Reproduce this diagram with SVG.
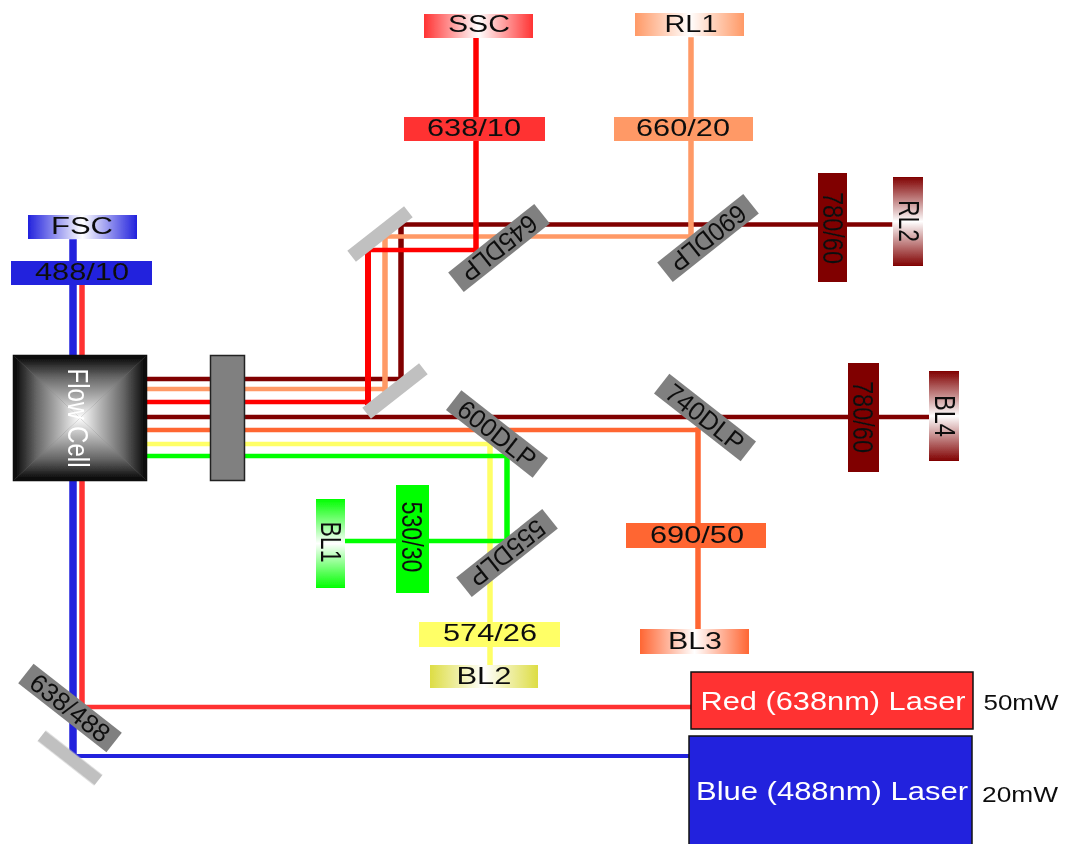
<svg xmlns="http://www.w3.org/2000/svg" width="1067" height="844" viewBox="0 0 1067 844">
<style>
text{font-family:"Liberation Sans",Arial,sans-serif;font-size:24px;fill:#111;text-anchor:middle}
.w{fill:#fff}
.dlp{fill:#808080}
.mir{fill:#c0c0c0}
.t{font-size:26px}
.v{font-size:30px;text-anchor:middle}
.h,.u{fill:none;stroke-linecap:square}
.h{stroke-width:4.500}
.u{stroke-width:5.500}
.dr{stroke:#800000}.or{stroke:#ff9966}.rd{stroke:#ff0000}.mo{stroke:#ff6633}.ye{stroke:#ffff66}.gr{stroke:#00ff00}.bl{stroke:#2222dd}.lr{stroke:#ff3333}
</style>
<defs>
<filter id="soft" x="-2%" y="-2%" width="104%" height="104%"><feGaussianBlur stdDeviation="0.7"/></filter>
<linearGradient id="gB"><stop offset="0" stop-color="#2222dd"/><stop offset=".5" stop-color="#fff"/><stop offset="1" stop-color="#2222dd"/></linearGradient>
<linearGradient id="gR"><stop offset="0" stop-color="#ff3333"/><stop offset=".5" stop-color="#fff"/><stop offset="1" stop-color="#ff3333"/></linearGradient>
<linearGradient id="gO"><stop offset="0" stop-color="#ff9966"/><stop offset=".5" stop-color="#fff"/><stop offset="1" stop-color="#ff9966"/></linearGradient>
<linearGradient id="gM"><stop offset="0" stop-color="#ff6633"/><stop offset=".5" stop-color="#fff"/><stop offset="1" stop-color="#ff6633"/></linearGradient>
<linearGradient id="gY"><stop offset="0" stop-color="#dddd44"/><stop offset=".5" stop-color="#fff"/><stop offset="1" stop-color="#dddd44"/></linearGradient>
<linearGradient id="gD" x2="0" y2="1"><stop offset="0" stop-color="#800000"/><stop offset=".5" stop-color="#fff"/><stop offset="1" stop-color="#800000"/></linearGradient>
<linearGradient id="gG" x2="0" y2="1"><stop offset="0" stop-color="#00ff00"/><stop offset=".5" stop-color="#fff"/><stop offset="1" stop-color="#00ff00"/></linearGradient>
<linearGradient id="fT" x2="0" y2="1"><stop offset="0" stop-color="#000"/><stop offset=".35" stop-color="#666"/><stop offset=".7" stop-color="#b4b4b4"/><stop offset="1" stop-color="#fff"/></linearGradient>
<linearGradient id="fB" x2="0" y2="1"><stop offset="0" stop-color="#fff"/><stop offset=".3" stop-color="#b4b4b4"/><stop offset=".65" stop-color="#666"/><stop offset="1" stop-color="#000"/></linearGradient>
<linearGradient id="fL"><stop offset="0" stop-color="#000"/><stop offset=".35" stop-color="#666"/><stop offset=".7" stop-color="#b4b4b4"/><stop offset="1" stop-color="#fff"/></linearGradient>
<linearGradient id="fR"><stop offset="0" stop-color="#fff"/><stop offset=".3" stop-color="#b4b4b4"/><stop offset=".65" stop-color="#666"/><stop offset="1" stop-color="#000"/></linearGradient>
</defs>
<rect width="1067" height="844" fill="#fff"/>
<g filter="url(#soft)">
<g id="connectors">
<path class="u bl" stroke-width="7" style="stroke-width:7.500" d="M73 243V756"/>
<path class="h bl" style="stroke-width:4" d="M73 756H688"/>
<path class="u lr" d="M82 287V707"/>
<path class="h lr" d="M82 707H690"/>
<path class="h dr" d="M149 379H401M401 224.500H890"/>
<path class="u dr" d="M401 379V224.500"/>
<path class="h or" d="M149 389H385M385 236.500H691"/>
<path class="u or" d="M385 389V236.500M691 236.500V40"/>
<path class="h rd" d="M149 402H368M368 250H476"/>
<path class="u rd" style="stroke-width:6" d="M368 402V250"/>
<path class="u rd" d="M476 250V40"/>
<path class="h dr" d="M149 417H928"/>
<path class="h mo" d="M149 430H698"/>
<path class="u mo" d="M698 430V628"/>
<path class="h ye" d="M149 444H490"/>
<path class="u ye" d="M490 444V663"/>
<path class="h gr" d="M149 456H507M507 541H347"/>
<path class="u gr" d="M507 456V541"/>
</g>
<g id="fsc"><rect x="28" y="215" width="109" height="24" fill="url(#gB)"/><text x="82" y="234" textLength="62" lengthAdjust="spacingAndGlyphs">FSC</text></g>
<g id="f48810"><rect x="11" y="261" width="141" height="24" fill="#2222dd"/><text x="82" y="279.500" textLength="94" lengthAdjust="spacingAndGlyphs">488/10</text></g>
<g id="flowcell">
<rect x="13" y="355" width="134" height="126" fill="#777"/>
<polygon points="13,355 147,355 80,418" fill="url(#fT)"/>
<polygon points="13,481 147,481 80,418" fill="url(#fB)"/>
<polygon points="13,355 13,481 80,418" fill="url(#fL)"/>
<polygon points="147,355 147,481 80,418" fill="url(#fR)"/>
<rect x="13.500" y="355.500" width="133" height="125" fill="none" stroke="#111" stroke-width="1.500"/>
<text class="w v" transform="translate(68 418) rotate(90)" textLength="99" lengthAdjust="spacingAndGlyphs">Flow Cell</text>
</g>
<g id="collector"><rect x="210.500" y="355.500" width="34" height="125" fill="#808080" stroke="#222" stroke-width="1.500"/></g>
<g id="mirror-lower"><rect class="mir" x="-36" y="-7" width="72" height="14" transform="translate(395 391) rotate(-38)"/></g>
<g id="mirror-upper"><rect class="mir" x="-36" y="-7" width="72" height="14" transform="translate(380 234) rotate(-38)"/></g>
<g id="ssc"><rect x="424" y="14" width="109" height="24" fill="url(#gR)"/><text x="479" y="32" textLength="62" lengthAdjust="spacingAndGlyphs">SSC</text></g>
<g id="f63810"><rect x="404" y="117" width="141" height="24" fill="#ff3333"/><text x="474" y="136" textLength="94" lengthAdjust="spacingAndGlyphs">638/10</text></g>
<g id="rl1"><rect x="635" y="13" width="109" height="23" fill="url(#gO)"/><text x="691" y="32" textLength="53" lengthAdjust="spacingAndGlyphs">RL1</text></g>
<g id="f66020"><rect x="614" y="117" width="139" height="24" fill="#ff9966"/><text x="683" y="136" textLength="94" lengthAdjust="spacingAndGlyphs">660/20</text></g>
<g id="d645"><rect class="dlp" x="-55" y="-12.500" width="110" height="25" transform="translate(499 248) rotate(-38.500)"/><text class="t" transform="translate(499 248) rotate(141.500)" y="9" textLength="90" lengthAdjust="spacingAndGlyphs">645DLP</text></g>
<g id="d690"><rect class="dlp" x="-55" y="-12.500" width="110" height="25" transform="translate(708 238) rotate(-38.500)"/><text class="t" transform="translate(708 238) rotate(141.500)" y="9" textLength="90" lengthAdjust="spacingAndGlyphs">690DLP</text></g>
<g id="f78060a"><rect x="818" y="173" width="29" height="109" fill="#800000"/><text class="v" transform="translate(823 228) rotate(90)" textLength="72" lengthAdjust="spacingAndGlyphs">780/60</text></g>
<g id="rl2"><rect x="893" y="177" width="30" height="89" fill="url(#gD)"/><text class="v" transform="translate(899 221) rotate(90)" textLength="42" lengthAdjust="spacingAndGlyphs">RL2</text></g>
<g id="d600"><rect class="dlp" x="-55" y="-12.500" width="110" height="25" transform="translate(497 434) rotate(38)"/><text class="t" transform="translate(497 434) rotate(38)" y="9" textLength="92" lengthAdjust="spacingAndGlyphs">600DLP</text></g>
<g id="d740"><rect class="dlp" x="-55" y="-12.500" width="110" height="25" transform="translate(705 417.500) rotate(38)"/><text class="t" transform="translate(705 417.500) rotate(38)" y="9" textLength="92" lengthAdjust="spacingAndGlyphs">740DLP</text></g>
<g id="f78060b"><rect x="848" y="363" width="31" height="109" fill="#800000"/><text class="v" transform="translate(853 417) rotate(90)" textLength="72" lengthAdjust="spacingAndGlyphs">780/60</text></g>
<g id="bl4"><rect x="929" y="371" width="30" height="90" fill="url(#gD)"/><text class="v" transform="translate(935 416) rotate(90)" textLength="42" lengthAdjust="spacingAndGlyphs">BL4</text></g>
<g id="d555"><rect class="dlp" x="-55" y="-12.500" width="110" height="25" transform="translate(507 553) rotate(-38.500)"/><text class="t" transform="translate(507 553) rotate(141.500)" y="9" textLength="90" lengthAdjust="spacingAndGlyphs">555DLP</text></g>
<g id="f53030"><rect x="396" y="485" width="33" height="108" fill="#00ff00"/><text class="v" transform="translate(402 537) rotate(90)" textLength="71" lengthAdjust="spacingAndGlyphs">530/30</text></g>
<g id="bl1"><rect x="316" y="499" width="29" height="89" fill="url(#gG)"/><text class="v" transform="translate(321 542) rotate(90)" textLength="41" lengthAdjust="spacingAndGlyphs">BL1</text></g>
<g id="f69050"><rect x="626" y="523" width="140" height="25" fill="#ff6633"/><text x="697" y="543" textLength="94" lengthAdjust="spacingAndGlyphs">690/50</text></g>
<g id="bl3"><rect x="640" y="629" width="109" height="25" fill="url(#gM)"/><text x="695" y="649" textLength="54" lengthAdjust="spacingAndGlyphs">BL3</text></g>
<g id="f57426"><rect x="419" y="622" width="141" height="25" fill="#ffff66"/><text x="490" y="641" textLength="94" lengthAdjust="spacingAndGlyphs">574/26</text></g>
<g id="bl2"><rect x="430" y="665" width="108" height="23" fill="url(#gY)"/><text x="484" y="684" textLength="55" lengthAdjust="spacingAndGlyphs">BL2</text></g>
<g id="d638488"><rect class="dlp" x="-56" y="-12.500" width="112" height="25" transform="translate(70 708) rotate(38)"/><text class="t" transform="translate(70 708) rotate(38)" y="9" textLength="94" lengthAdjust="spacingAndGlyphs">638/488</text></g>
<g id="mirror-bottom"><rect class="mir" x="-36" y="-6.500" width="72" height="13" transform="translate(70 758) rotate(38)"/></g>
<g id="laser-red"><rect x="691" y="672" width="282" height="57" fill="#ff3333" stroke="#111" stroke-width="1.500"/><text class="w" style="font-size:26px" x="833" y="710" textLength="265" lengthAdjust="spacingAndGlyphs">Red (638nm) Laser</text></g>
<g id="laser-blue"><rect x="689" y="736" width="283" height="120" fill="#2222dd" stroke="#111" stroke-width="1.500"/><text class="w" style="font-size:26px" x="832" y="800" textLength="272" lengthAdjust="spacingAndGlyphs">Blue (488nm) Laser</text></g>
<text x="1021" y="710" style="font-size:22px" textLength="75" lengthAdjust="spacingAndGlyphs">50mW</text>
<text x="1020" y="802" style="font-size:22px" textLength="76" lengthAdjust="spacingAndGlyphs">20mW</text>
</g>
</svg>
